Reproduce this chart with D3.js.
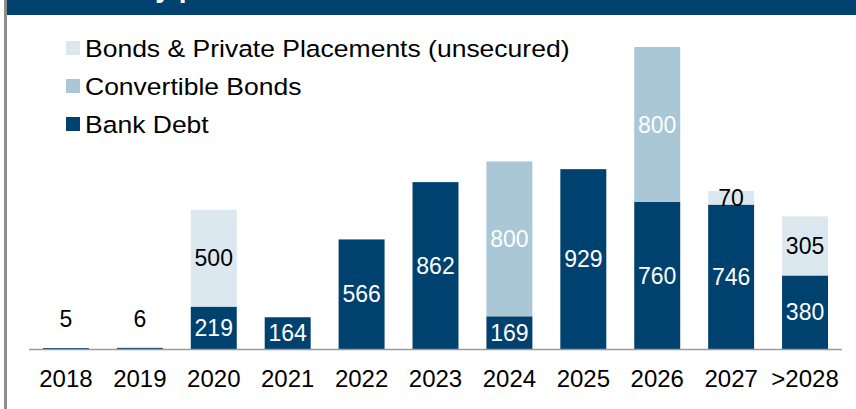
<!DOCTYPE html>
<html><head><meta charset="utf-8">
<script src="https://cdn.jsdelivr.net/npm/d3@7"></script>
<style>html,body{margin:0;padding:0;background:#fff;}svg{display:block;font-family:"Liberation Sans",Arial,sans-serif;}</style>
</head><body>
<svg id="c" width="856" height="409"></svg>
<script>
const categories = ["2018","2019","2020","2021","2022","2023","2024","2025","2026","2027",">2028"];
const bankDebt    = [5, 6, 219, 164, 566, 862, 169, 929, 760, 746, 380];
const convertible = [0, 0, 0, 0, 0, 0, 800, 0, 800, 0, 0];
const bonds       = [0, 0, 500, 0, 0, 0, 0, 0, 0, 70, 305];
const seriesNames = ["Bonds & Private Placements (unsecured)", "Convertible Bonds", "Bank Debt"];
const title = "Maturity profile";

const colors = {bank:"#00426f", conv:"#a9c7d6", bonds:"#dce8ef"};
const svg = d3.select("#c");

// header bar and left rule
svg.append("rect").attr("x",7).attr("y",0).attr("width",849).attr("height",15).attr("fill","#00426f");
svg.append("text").attr("x",62).attr("y",-3).attr("fill","#fff").attr("font-weight","bold")
  .attr("font-size",28).text(title);
svg.append("rect").attr("x",4).attr("y",0).attr("width",3).attr("height",409).attr("fill","#8c8c8c");

const x = d3.scaleBand().domain(categories).range([29,842]).paddingInner(0.378).paddingOuter(0.189);
const y = d3.scaleLinear().domain([0,1560]).range([349,47]);

const rows = categories.map((c,i)=>({c, bank:bankDebt[i], conv:convertible[i], bonds:bonds[i]}));
const stack = d3.stack().keys(["bank","conv","bonds"])(rows);

const g = svg.append("g");
stack.forEach(layer=>{
  g.selectAll(null).data(layer).enter().append("rect")
    .attr("x",d=>x(d.data.c))
    .attr("width",x.bandwidth())
    .attr("y",d=>y(d[1]))
    .attr("height",d=>y(d[0])-y(d[1]))
    .attr("fill",colors[layer.key]);
});

// axis
const axis = d3.axisBottom(x).tickSize(0).tickPadding(0);
const ax = svg.append("g").attr("transform","translate(0,349)").call(axis);
ax.select(".domain").attr("stroke","#9a9a9a").attr("stroke-width",1.5).attr("d","M29,0.5H842");
ax.selectAll("text").attr("font-size",24).attr("fill","#000").attr("dy",null).attr("y",37.5)
  .style("font-family","'Liberation Sans',Arial,sans-serif");

// labels
const fs = 23;
stack.forEach(layer=>{
  layer.forEach(d=>{
    const v = d[1]-d[0];
    if(!v) return;
    const cx = x(d.data.c)+x.bandwidth()/2;
    let ty, fill;
    if(v < 20){ ty = y(d[1]) - 21; fill="#000"; }
    else { ty = (y(d[0])+y(d[1]))/2 + fs*0.36; fill = layer.key==="bonds" ? "#000" : "#fff"; }
    svg.append("text").attr("x",cx).attr("y",ty).attr("text-anchor","middle")
      .attr("font-size",fs).attr("fill",fill).text(v);
  });
});

// legend
const legColors = [colors.bonds, colors.conv, colors.bank];
const sx = 1.138;
seriesNames.forEach((n,i)=>{
  const ly = 41 + i*38;
  svg.append("rect").attr("x",66).attr("y",ly).attr("width",14).attr("height",14).attr("fill",legColors[i]);
  svg.append("text").attr("transform",`translate(85,${ly+15.5}) scale(${sx},1)`)
    .attr("font-size",23.3).attr("fill","#000").text(n);
});
</script>
</body></html>
